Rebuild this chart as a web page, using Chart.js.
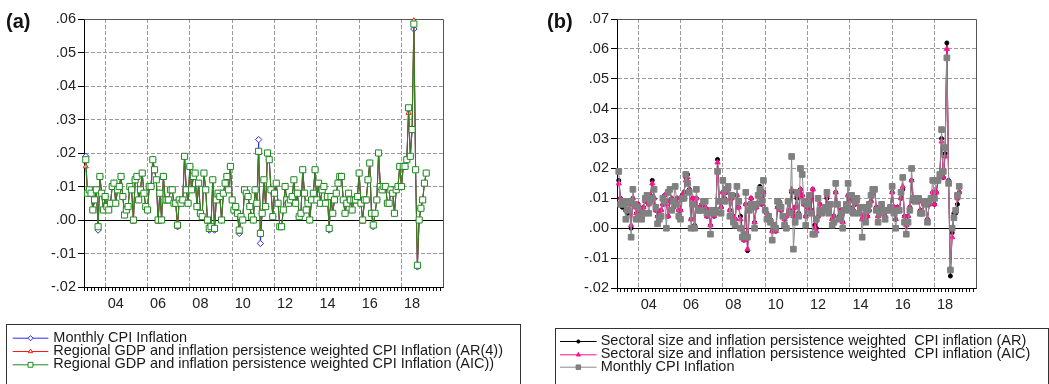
<!DOCTYPE html>
<html>
<head>
<meta charset="utf-8">
<script src="https://cdn.jsdelivr.net/npm/chart.js@4.4.1/dist/chart.umd.min.js"></script>
<style>
  html, body { margin: 0; padding: 0; background: #fff; }
  #wrap { position: relative; width: 1049px; height: 384px; }
  #wrap canvas { position: absolute; left: 0; top: 0; }
</style>
</head>
<body>
<div id="wrap">
  <canvas id="chartA" width="1049" height="384"></canvas>
  <canvas id="chartB" width="1049" height="384"></canvas>
</div>
<script>
// monthly observations, Feb 2003 .. Mar 2019 (one line per year)
var cpiInflation = [
  .019,.008,.009,.008,.003,.006,.009,-.003,.013,.008,.003,
  .007,.004,.003,.005,.010,.011,.005,.009,.010,.013,.007,.0015,
  .003,.004,.010,.009,.000,.012,.013,.006,.009,.014,.008,.004,
  .003,.010,.010,.018,.015,.012,.000,.008,.000,.013,.006,.006,
  .006,.009,.009,.005,.005,-.002,.006,.005,.006,.019,.009,.005,
  .016,.009,.013,.014,.004,.011,.002,.001,.014,.009,.000,-.003,
  -.002,.012,-.003,.006,.008,.007,.000,.008,.011,.013,.009,.016,
  .006,.003,.004,.002,-.004,.001,.000,.009,.008,.007,.004,.001,
  .000,.009,.005,.024,-.007,.002,.012,.004,.020,.018,.009,.001,
  .008,.011,.005,-.002,-.002,.003,.010,.006,.005,.006,.007,.012,
  .005,.008,.001,.002,.015,.008,.003,.005,.000,.006,.008,.015,
  .006,.011,.005,.009,.010,.005,.007,-.003,.007,.002,.006,.008,
  .011,.013,.013,.006,.002,.005,.008,.006,.003,.006,.006,.007,
  .014,.005,.000,.006,.006,.012,.017,.002,-.002,.002,.006,.020,
  .010,.009,.010,.010,.005,.005,.009,.008,.002,.009,.010,.016,
  .010,.016,.016,.018,.033,.019,.027,.057,.015,-.014,.000,.0035,
  .006,.011,.014
];
var regionalAR4 = [
  .016,.008,.009,.008,.003,.006,.009,-.002,.013,.008,.003,
  .007,.004,.003,.005,.010,.011,.005,.009,.010,.013,.007,.0015,
  .003,.004,.010,.009,-.0005,.012,.013,.006,.009,.014,.008,.004,
  .003,.010,.010,.018,.015,.012,-.0005,.008,.000,.013,.006,.006,
  .006,.009,.009,.005,.005,-.002,.006,.005,.006,.019,.009,.005,
  .016,.009,.013,.014,.004,.011,.002,.001,.014,.009,-.0005,-.003,
  -.002,.012,-.003,.006,.008,.007,.000,.008,.011,.013,.009,.016,
  .006,.003,.004,.002,-.0035,.001,.000,.009,.008,.007,.004,.001,
  .000,.009,.005,.020,-.003,.002,.012,.004,.020,.018,.009,.001,
  .008,.011,.005,-.002,-.002,.003,.010,.006,.005,.006,.007,.012,
  .005,.008,.001,.002,.015,.008,.003,.005,.000,.006,.008,.015,
  .006,.011,.005,.009,.010,.005,.007,-.0025,.007,.002,.006,.008,
  .011,.013,.013,.006,.002,.005,.008,.006,.003,.006,.006,.007,
  .014,.005,-.0005,.006,.006,.012,.017,.002,-.0015,.002,.006,.020,
  .010,.009,.010,.010,.005,.005,.009,.008,.002,.009,.010,.016,
  .010,.016,.016,.018,.032,.019,.027,.0595,.015,-.0138,.000,.0035,
  .006,.011,.014
];
var regionalAIC = [
  .018,.008,.009,.008,.003,.006,.009,-.002,.013,.008,.003,
  .007,.004,.003,.005,.010,.011,.005,.009,.010,.013,.007,.0015,
  .003,.004,.010,.009,.000,.012,.013,.006,.009,.014,.008,.004,
  .003,.010,.010,.018,.015,.012,.000,.008,.000,.013,.006,.006,
  .006,.009,.009,.005,.005,-.0015,.006,.005,.006,.019,.009,.005,
  .016,.009,.013,.014,.004,.011,.002,.001,.014,.009,.000,-.0025,
  -.002,.012,-.0025,.006,.008,.007,.000,.008,.011,.013,.009,.016,
  .006,.003,.004,.002,-.003,.001,.000,.009,.008,.007,.004,.001,
  .000,.009,.005,.0205,-.004,.002,.012,.004,.020,.018,.009,.001,
  .008,.011,.005,-.002,-.002,.003,.010,.006,.005,.006,.007,.012,
  .005,.008,.001,.002,.015,.008,.003,.005,.000,.006,.008,.015,
  .006,.011,.005,.009,.010,.005,.007,-.0025,.007,.002,.006,.008,
  .011,.013,.013,.006,.002,.005,.008,.006,.003,.006,.006,.007,
  .014,.005,.000,.006,.006,.012,.017,.002,-.0015,.002,.006,.020,
  .010,.009,.010,.010,.005,.005,.009,.008,.002,.009,.010,.016,
  .010,.016,.016,.018,.0335,.019,.027,.0585,.015,-.0135,.000,.0035,
  .006,.011,.014
];
var sectoralAR = [
  .016,.010,.007,.009,.006,.005,.008,.000,.010,.008,.005,
  .008,.006,.005,.007,.009,.010,.008,.011,.016,.010,.006,.004,
  .005,.006,.008,.011,.009,.004,.009,.010,.007,.008,.010,.006,
  .006,.011,.012,.017,.018,.013,.003,.010,.001,.010,.006,.007,
  .008,.009,.007,.004,.006,.001,.006,.004,.005,.023,.009,.007,
  .012,.010,.012,.013,.006,.010,.004,.003,.011,.007,.004,.000,
  -.004,.008,-.0075,.006,.010,.008,.002,.007,.011,.014,.008,.012,
  .006,.005,.003,.003,-.001,.000,-.001,.007,.009,.006,.004,.003,
  .004,.009,.006,.012,.004,.007,.010,.005,.013,.011,.008,.004,
  .007,.010,.006,.013,.001,.000,.004,.008,.006,.006,.007,.010,
  .005,.008,.003,.004,.012,.008,.004,.006,.002,.006,.007,.011,
  .007,.010,.006,.008,.009,.005,.007,.003,.007,.004,.004,.006,
  .009,.012,.013,.007,.004,.006,.008,.006,.004,.006,.006,.007,
  .012,.007,.003,.007,.006,.010,.013,.004,.001,.004,.007,.016,
  .009,.010,.009,.009,.006,.005,.008,.008,.003,.008,.010,.012,
  .008,.012,.016,.018,.030,.017,.025,.062,.016,-.016,-.0015,.005,
  .005,.008,.012
];
var sectoralAIC = [
  .015,.010,.008,.009,.006,.006,.008,.001,.010,.007,.005,
  .008,.006,.006,.007,.009,.011,.008,.011,.015,.010,.006,.004,
  .005,.006,.008,.011,.008,.004,.009,.010,.007,.009,.010,.006,
  .006,.011,.012,.016,.017,.013,.003,.010,.001,.010,.006,.007,
  .008,.009,.007,.004,.006,.001,.006,.004,.005,.022,.009,.007,
  .012,.010,.012,.013,.006,.010,.004,.003,.011,.007,.003,.000,
  -.004,.008,-.007,.006,.010,.008,.002,.007,.011,.013,.008,.012,
  .006,.005,.003,.003,-.001,.000,-.001,.007,.009,.006,.004,.003,
  .004,.009,.006,.013,.004,.007,.011,.005,.013,.011,.008,.004,
  .007,.010,.006,.013,.000,-.001,.004,.008,.006,.006,.007,.011,
  .005,.008,.003,.004,.012,.008,.004,.006,.002,.006,.007,.011,
  .007,.011,.006,.008,.009,.005,.007,.003,.007,.004,.004,.006,
  .009,.012,.013,.007,.004,.006,.008,.006,.004,.006,.006,.007,
  .012,.007,.003,.007,.006,.010,.014,.004,.001,.004,.007,.016,
  .009,.010,.009,.009,.006,.005,.008,.008,.003,.008,.010,.012,
  .008,.012,.016,.018,.029,.017,.024,.060,.016,-.0135,-.003,.004,
  .006,.010,.012
];

// tick values for the two value axes
var yTicksA = [-.02, -.01, 0, .01, .02, .03, .04, .05, .06];
var yTicksB = [-.02, -.01, 0, .01, .02, .03, .04, .05, .06, .07];

// decimal year of every observation (first one is Feb 2003)
var monthAxis = cpiInflation.map(function (v, i) { return 2003 + (i + 1) / 12; });

function toPoints(vals) {
  return vals.map(function (v, i) { return { x: monthAxis[i], y: v }; });
}

var FONT = 'Liberation Sans, Arial, Helvetica, sans-serif';
var GRID = '#9a9a9a';

function fmtTick(v) {
  var s = Math.abs(v).toFixed(2).slice(1);
  return (v < -1e-9 ? '-' : '') + s;
}
function isGridYear(v) {
  var r = Math.round(v);
  return Math.abs(v - r) < 1e-6 && r % 2 === 0 && r > 2003;
}

// frame + panel tag + legend box
var panelDecor = {
  id: 'panelDecor',
  beforeDatasetsDraw: function (chart) {
    var ctx = chart.ctx, a = chart.chartArea;
    ctx.save();
    ctx.strokeStyle = '#555';
    ctx.lineWidth = 1;
    ctx.beginPath();
    ctx.moveTo(Math.round(a.left) + 0.5, Math.round(a.top) + 0.5);
    ctx.lineTo(Math.round(a.right) + 0.5, Math.round(a.top) + 0.5);
    ctx.lineTo(Math.round(a.right) + 0.5, Math.round(a.bottom) + 0.5);
    ctx.stroke();
    ctx.restore();
  },
  afterDraw: function (chart, args, opts) {
    var ctx = chart.ctx;
    ctx.save();
    ctx.fillStyle = '#111';
    ctx.font = 'bold 20px ' + FONT;
    ctx.textBaseline = 'middle';
    ctx.fillText(opts.tag, opts.tagX, opts.tagY);

    // legend
    var b = opts.box;
    ctx.strokeStyle = '#333';
    ctx.lineWidth = 1;
    ctx.strokeRect(b[0] + 0.5, b[1] + 0.5, b[2], b[3]);
    ctx.font = '14.5px ' + FONT;
    ctx.textBaseline = 'middle';
    chart.data.datasets.forEach(function (ds, i) {
      var y = opts.rowY[i];
      ctx.strokeStyle = ds.borderColor;
      ctx.lineWidth = 1;
      ctx.beginPath();
      ctx.moveTo(opts.sampleX[0], y + 0.5);
      ctx.lineTo(opts.sampleX[1], y + 0.5);
      ctx.stroke();
      ctx.fillStyle = ds.pointBackgroundColor;
      ctx.strokeStyle = ds.pointBorderColor;
      Chart.helpers.drawPoint(ctx, {
        pointStyle: ds.pointStyle, radius: ds.pointRadius * 0.8,
        borderWidth: ds.pointBorderWidth, rotation: 0
      }, (opts.sampleX[0] + opts.sampleX[1]) / 2, y + 0.5);
      ctx.fillStyle = '#1a1a1a';
      ctx.fillText(ds.label, opts.textX, y);
    });
    ctx.restore();
  }
};

function makeScales(chartLeftWidth, yTicks) {
  return {
    x: {
      type: 'linear', min: 2003, max: 2019.96,
      afterBuildTicks: function (s) {
        var t = [];
        for (var k = 0; 2003 + k / 6 <= 2019.96; k++) t.push({ value: 2003 + k / 6 });
        s.ticks = t;
      },
      afterFit: function (s) { s.height = 30; },
      grid: {
        color: function (c) { return isGridYear(c.tick.value) ? GRID : 'rgba(0,0,0,0)'; },
        tickColor: '#000', tickLength: 4, lineWidth: 1
      },
      border: { color: '#000', width: 1, dash: [4, 2] },
      ticks: {
        autoSkip: false, maxRotation: 0, padding: 4, labelOffset: 10.6,
        color: '#222', font: { family: FONT, size: 14.5 },
        callback: function (v) { return isGridYear(v) ? String(Math.round(v)).slice(2) : ''; }
      }
    },
    y: {
      min: yTicks[0], max: yTicks[yTicks.length - 1],
      afterBuildTicks: function (s) { s.ticks = yTicks.map(function (v) { return { value: v }; }); },
      afterFit: function (s) { s.width = chartLeftWidth; },
      grid: {
        color: function (c) { return Math.abs(c.tick.value) < 1e-9 ? '#000' : GRID; },
        tickColor: '#000', tickLength: 6, lineWidth: 1
      },
      border: {
        color: '#000', width: 1,
        dash: function (c) { return c.tick && Math.abs(c.tick.value) < 1e-9 ? [] : [4, 2]; }
      },
      ticks: {
        padding: 2, color: '#222', font: { family: FONT, size: 14.5 },
        callback: function (v) { return fmtTick(v); }
      }
    }
  };
}

function lineSet(label, vals, color, style, radius, fill, order, lineColor) {
  return {
    label: label, data: toPoints(vals),
    borderColor: lineColor || color, borderWidth: 1,
    pointStyle: style, pointRadius: radius, pointBorderWidth: 1,
    pointBorderColor: color, pointBackgroundColor: fill,
    order: order, clip: false
  };
}

new Chart(document.getElementById('chartA'), {
  type: 'line',
  data: {
    datasets: [
      lineSet('Monthly CPI Inflation', cpiInflation, '#2b2bff', 'rectRot', 3.2, '#ffffff', 3),
      lineSet('Regional GDP and inflation persistence weighted CPI Inflation (AR(4))', regionalAR4, '#ff1a1a', 'triangle', 3, '#ffffff', 2),
      lineSet('Regional GDP and inflation persistence weighted CPI Inflation (AIC))', regionalAIC, '#1e8c1e', 'rect', 4.3, '#ffffff', 1)
    ]
  },
  options: {
    responsive: false, animation: false, events: [],
    layout: { padding: { left: 0, top: 19, right: 606, bottom: 67 } },
    scales: makeScales(84, yTicksA),
    plugins: {
      legend: { display: false }, tooltip: { enabled: false },
      panelDecor: {
        tag: '(a)', tagX: 6, tagY: 22,
        box: [6, 324, 514, 62], rowY: [337.7, 351, 364.3],
        sampleX: [12.7, 48.3], textX: 53.3
      }
    }
  },
  plugins: [panelDecor]
});

new Chart(document.getElementById('chartB'), {
  type: 'line',
  data: {
    datasets: [
      lineSet('Sectoral size and inflation persistence weighted  CPI inflation (AR)', sectoralAR, '#000000', 'circle', 2, '#000000', 3),
      lineSet('Sectoral size and inflation persistence weighted  CPI inflation (AIC)', sectoralAIC, '#ff1493', 'triangle', 3, '#ff1493', 2),
      lineSet('Monthly CPI Inflation', cpiInflation, '#808080', 'rect', 4, '#808080', 1, '#8c8c8c')
    ]
  },
  options: {
    responsive: false, animation: false, events: [],
    layout: { padding: { left: 530, top: 19, right: 73, bottom: 66 } },
    scales: makeScales(87, yTicksB),
    plugins: {
      legend: { display: false }, tooltip: { enabled: false },
      panelDecor: {
        tag: '(b)', tagX: 547, tagY: 22,
        box: [555, 328, 493, 60], rowY: [341, 354.3, 366.7],
        sampleX: [560, 596.7], textX: 600.7
      }
    }
  },
  plugins: [panelDecor]
});
</script>
</body>
</html>
